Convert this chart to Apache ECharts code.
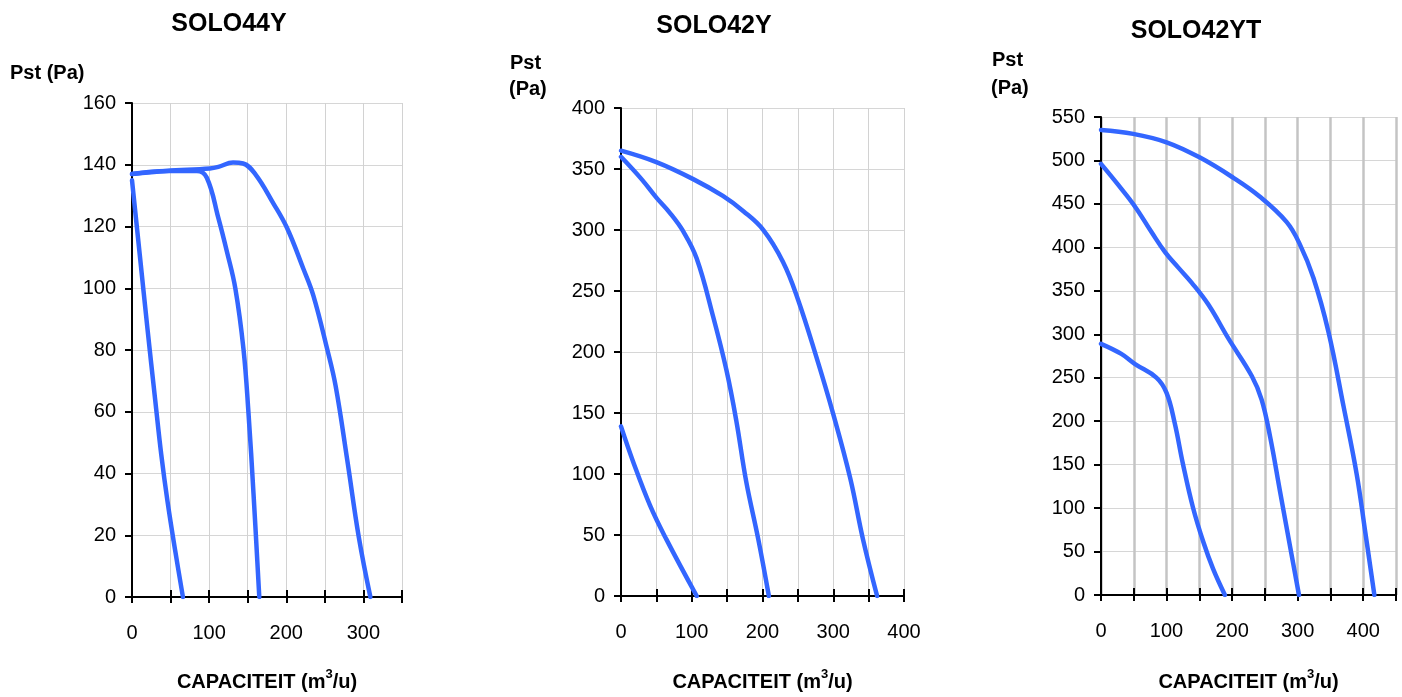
<!DOCTYPE html>
<html>
<head>
<meta charset="utf-8">
<script src="https://cdn.jsdelivr.net/npm/echarts@6/dist/echarts.min.js"></script>
<style>
html,body{margin:0;padding:0;background:#fff;}
#c{width:1402px;height:697px;}
</style>
</head>
<body>
<div id="c"></div>
<script>
// ---- Data (capacity m3/u, static pressure Pa) ----
const titles = ['SOLO44Y', 'SOLO42Y', 'SOLO42YT'];

// SOLO44Y
const s44_high_q = [0, 45, 101, 112, 131, 144, 160, 183, 201, 222, 235, 253, 264, 279, 294, 309];
const s44_high_p = [137, 138, 138.8, 139.3, 140.7, 140.4, 136.9, 127.6, 119.5, 106.4, 97.7, 80.3, 68.3, 44.4, 19.4, 0];
const s44_mid_q  = [0, 45, 84, 97, 112, 123, 134, 144.5, 151, 157.5, 165];
const s44_mid_p  = [137, 138, 138, 135.8, 122.7, 111.9, 99.9, 80.3, 59.6, 33.5, 0];
const s44_low_q  = [0, 10, 20, 30, 38, 46, 56, 66];
const s44_low_p  = [135, 111, 87, 64, 46, 31, 15, 0];

// SOLO42Y
const s42_high_q = [0, 50, 102, 144, 173, 201, 229, 250, 276, 300, 324, 342, 362];
const s42_high_p = [365, 355.6, 341.7, 327.9, 315.4, 300.1, 273.8, 243.3, 196.2, 149.1, 96.5, 46.6, 0];
const s42_mid_q  = [0, 29, 50, 69, 88, 107, 130, 149, 163, 177, 194, 209];
const s42_mid_p  = [360, 341.7, 326.5, 314.1, 298.8, 276.6, 229.5, 185.2, 143.6, 93.7, 46.6, 0];
const s42_low_q  = [0, 17, 41, 64, 107];
const s42_low_p  = [139, 110.3, 74.3, 46.6, 0];

// SOLO42YT
const s42t_high_q = [0, 49, 100, 151, 202, 242, 283, 303, 324, 347, 370, 390, 403, 417];
const s42t_high_p = [535, 530.6, 520.9, 503.3, 480, 458.5, 429.3, 404, 365, 302.7, 217, 139.2, 73, 0];
const s42t_mid_q  = [0, 26, 52, 77, 98, 118, 138.5, 164, 194.5, 230, 245, 258, 273, 289, 302];
const s42t_mid_p  = [496, 472.1, 446.8, 417.6, 394.2, 376.7, 359.2, 333.9, 294.9, 252, 224.8, 181.9, 119.6, 53.4, 0];
const s42t_low_q  = [0, 31, 52, 84.5, 100, 112.5, 125, 140.5, 156, 171, 189];
const s42t_low_p  = [289, 277.4, 265.7, 250.1, 232.6, 197.5, 150.8, 100.1, 61.2, 30, 0];

// axis ranges / ticks
const xMax = [350, 400, 450];
const yMax = [160, 400, 550];
const yStep = [20, 50, 50];
const xStep = 50;

// ---- Build ----
const FONT = 'Liberation Sans, Arial, Helvetica, sans-serif';
const BLUE = '#3366ff';
const zip = (a, b) => a.map((v, i) => [v, b[i]]);

const grids = [
  {left: 132, top: 103, width: 270, height: 498},
  {left: 621, top: 108, width: 283, height: 497},
  {left: 1101, top: 117, width: 295, height: 485}
];

const curves = [
  [[s44_high_q, s44_high_p], [s44_mid_q, s44_mid_p], [s44_low_q, s44_low_p]],
  [[s42_high_q, s42_high_p], [s42_mid_q, s42_mid_p], [s42_low_q, s42_low_p]],
  [[s42t_high_q, s42t_high_p], [s42t_mid_q, s42t_mid_p], [s42t_low_q, s42t_low_p]]
];

const xAxes = [], yAxes = [], series = [];
const nameGaps = [71, 72, 73];
for (let i = 0; i < 3; i++) {
  const vThick = i === 2;
  xAxes.push({
    type: 'value', gridIndex: i, min: 0, max: xMax[i], interval: xStep,
    name: '{b|CAPACITEIT (m}{s|3}{b|/u)}',
    nameLocation: 'middle', nameGap: nameGaps[i],
    nameTextStyle: {
      rich: {
        b: {fontFamily: FONT, fontSize: 20, fontWeight: 'bold', color: '#000', lineHeight: 24, verticalAlign: 'bottom'},
        s: {fontFamily: FONT, fontSize: 13, fontWeight: 'bold', color: '#000', lineHeight: 24, verticalAlign: 'top'}
      }
    },
    axisLine: {show: true, onZero: false, lineStyle: {color: '#000', width: 2}},
    axisTick: {show: true, length: 6, lineStyle: {color: '#000', width: 2}},
    axisLabel: {
      margin: 26, fontFamily: FONT, fontSize: 20, color: '#000',
      showMinLabel: true, showMaxLabel: true,
      formatter: v => (v % 100 === 0 ? String(v) : '')
    },
    splitLine: {show: true, lineStyle: {color: vThick ? '#c4c4c4' : '#d2d2d2', width: vThick ? 2.5 : 1}}
  });
  // inner tick overlay so x ticks cross the axis line
  xAxes.push({
    type: 'value', gridIndex: i, min: 0, max: xMax[i], interval: xStep, position: 'bottom',
    axisLine: {show: false},
    axisTick: {show: true, inside: true, length: 7, lineStyle: {color: '#000', width: 2}},
    axisLabel: {show: false}, splitLine: {show: false}
  });
  yAxes.push({
    type: 'value', gridIndex: i, min: 0, max: yMax[i], interval: yStep[i],
    axisLine: {show: true, onZero: false, lineStyle: {color: '#000', width: 2}},
    axisTick: {show: true, length: 7, lineStyle: {color: '#000', width: 2}},
    axisLabel: {margin: 16, fontFamily: FONT, fontSize: 20, color: '#000'},
    splitLine: {show: true, lineStyle: {color: '#d6d6d6', width: 1}}
  });
  curves[i].forEach(c => {
    series.push({
      type: 'line', xAxisIndex: i * 2, yAxisIndex: i,
      data: zip(c[0], c[1]), smooth: 0.4, showSymbol: false, symbol: 'none',
      lineStyle: {color: BLUE, width: 4.5, cap: 'round', join: 'round'},
      animation: false, z: 5
    });
  });
}

const T = (text, x, y, size, align) => ({
  type: 'text', x: x, y: y, z: 100,
  style: {text: text, fill: '#000', font: 'bold ' + size + 'px ' + FONT,
    textAlign: align || 'center', textVerticalAlign: 'middle'}
});

const graphic = [
  T(titles[0], 229, 24, 25),
  T(titles[1], 714, 26, 25),
  T(titles[2], 1196, 31, 25),
  T('Pst (Pa)', 10, 73, 20, 'left'),
  T('Pst', 510, 63, 20, 'left'),
  T('(Pa)', 509, 89, 20, 'left'),
  T('Pst', 992, 60, 20, 'left'),
  T('(Pa)', 991, 88, 20, 'left')
];

const chart = echarts.init(document.getElementById('c'), null, {renderer: 'canvas'});
chart.setOption({
  animation: false,
  backgroundColor: '#fff',
  grid: grids,
  xAxis: xAxes,
  yAxis: yAxes,
  series: series,
  graphic: graphic
});
</script>
</body>
</html>
